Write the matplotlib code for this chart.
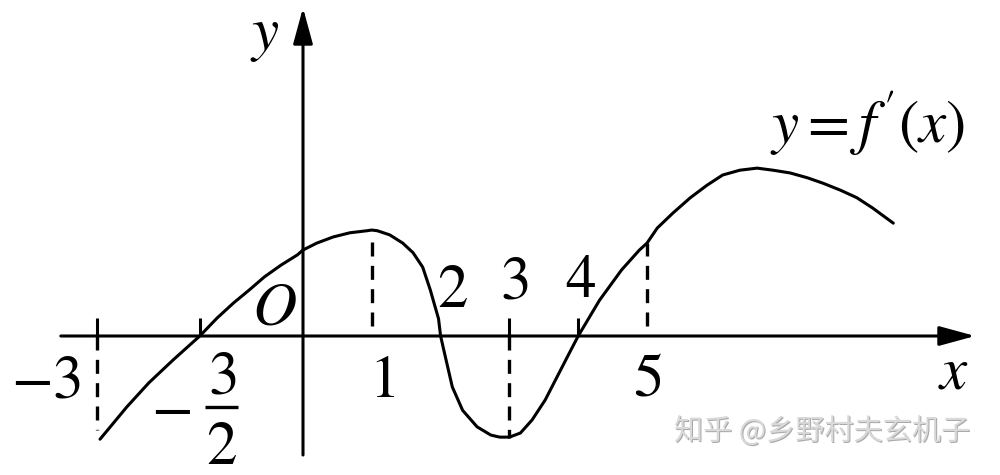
import matplotlib
matplotlib.use("Agg")
import matplotlib.pyplot as plt
import matplotlib.transforms as mtransforms

plt.rcParams["mathtext.fontset"] = "stix"

# curve y = f'(x)
curve_x = [-2.95, -2.56, -2.24, -1.89, -1.5, -1.25, -1.01, -0.78, -0.56, -0.32,
           -0.08, 0.0, 0.20, 0.44, 0.68, 0.93, 1.0, 1.08, 1.26, 1.45,
           1.60, 1.74, 1.85, 1.97, 2.0, 2.08, 2.17, 2.32, 2.53, 2.73,
           2.86, 3.0, 3.16, 3.33, 3.52, 3.69, 3.87, 4.0, 4.31, 4.63, 4.89,
           5.0, 5.15, 5.38, 5.63, 5.87, 6.10, 6.35, 6.60, 6.83, 7.08,
           7.33, 7.56, 7.81, 8.05, 8.28, 8.58]
curve_y = [-1.50, -1.03, -0.68, -0.35, 0.0, 0.26, 0.48, 0.67, 0.86, 1.03,
           1.18, 1.25, 1.35, 1.44, 1.50, 1.53, 1.54, 1.53, 1.47, 1.35,
           1.21, 1.00, 0.67, 0.25, 0.0, -0.35, -0.74, -1.08, -1.32, -1.44,
           -1.47, -1.47, -1.41, -1.22, -0.93, -0.60, -0.25, 0.0, 0.52, 0.96, 1.25,
           1.35, 1.57, 1.79, 2.01, 2.19, 2.34, 2.41, 2.44, 2.41, 2.37,
           2.30, 2.22, 2.12, 2.01, 1.86, 1.64]

# dashed guide lines: x, y_from, y_to
guide_x = [-3, 1, 3, 5]
guide_y0 = [0.0, 0.15, 0.0, 0.15]
guide_y1 = [-1.37, 1.50, -1.48, 1.35]

# small ticks above the x axis
tick_x = [-3, -1.5, 3, 4]

watermark = "知乎 @乡野村夫玄机子"

ux = 68.8
fig = plt.figure(figsize=(10, 4.75), dpi=100)
ax = fig.add_axes([0, 0, 1, 1])
ax.set_xlim(-303 / ux, 697 / ux)
ax.set_ylim(-139 / ux, 336 / ux)
ax.axis("off")

lw = 2.2
arrow = dict(arrowstyle="-|>,head_length=2.2,head_width=0.6", lw=lw, color="black",
             shrinkA=0, shrinkB=0)
ax.annotate("", xy=(9.77, 0), xytext=(-3.52, 0), arrowprops=arrow)
ax.annotate("", xy=(0, 4.77), xytext=(0, -1.73), arrowprops=arrow)

for x in tick_x:
    ax.plot([x, x], [0, 0.26], color="black", lw=lw, solid_capstyle="butt")
for x, a, b in zip(guide_x, guide_y0, guide_y1):
    ax.plot([x, x], [a, b], color="black", lw=2.4, linestyle=(0, (4.2, 2.8)))

ax.plot(curve_x, curve_y, color="black", lw=lw, solid_joinstyle="round",
        solid_capstyle="round")

fs = 44
kw = dict(fontsize=fs, ha="center", va="baseline")
ax.text(-3.74, -0.887, r"$-3$", **kw)
ax.text(-1.92, -1.29, r"$-$", **kw)
ax.text(-1.18, -0.83, r"$3$", **kw)
ax.plot([-1.42, -0.94], [-1.03, -1.03], color="black", lw=2.4, solid_capstyle="butt")
ax.text(-1.18, -1.86, r"$2$", **kw)
ax.text(-0.41, 0.16, r"$O$", **kw)
ax.text(1.15, -0.887, r"$1$", **kw)
ax.text(2.18, 0.42, r"$2$", **kw)
ax.text(3.07, 0.55, r"$3$", **kw)
ax.text(4.03, 0.57, r"$4$", **kw)
ax.text(5.01, -0.86, r"$5$", **kw)
ax.text(9.45, -0.76, r"$x$", **kw)
ax.text(-0.55, 4.17, r"$y$", **kw)
ax.text(8.21, 2.80, r"$y{=}f\,'(x)$", **kw)

# embossed watermark: darker shadow, light fill on top
wm = dict(fontsize=21, family=["Noto Sans CJK SC", "DejaVu Sans"], ha="center", va="center")
shadow = mtransforms.offset_copy(ax.transData, fig=fig, x=0.8, y=-0.8, units="points")
ax.text(7.54, -1.41, watermark, color="#a9a9a9", transform=shadow, **wm)
ax.text(7.54, -1.41, watermark, color="#d9d9d9", **wm)

fig.savefig("out.png", dpi=100)
